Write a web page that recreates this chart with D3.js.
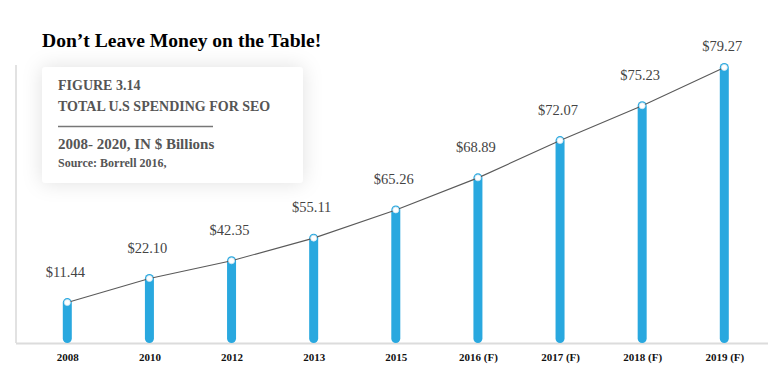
<!DOCTYPE html>
<html><head><meta charset="utf-8">
<script src="https://cdn.jsdelivr.net/npm/d3@7/dist/d3.min.js"></script>
<style>
html,body{margin:0;padding:0;background:#fff;}
svg{display:block;font-family:"Liberation Serif","Times New Roman",serif;}
</style></head>
<body>
<svg id="c" width="768" height="377"></svg>
<script>
const categories = ["2008","2010","2012","2013","2015","2016 (F)","2017 (F)","2018 (F)","2019 (F)"];
// drawn bar heights (as shown in the picture, in $ billions scale of the axis)
const barLevels = [11.6, 18.5, 23.6, 30.1, 38.2, 47.4, 58.1, 68.1, 79.1];
// value labels printed above each bar
const valueLabels = ["$11.44","$22.10","$42.35","$55.11","$65.26","$68.89","$72.07","$75.23","$79.27"];
const titleText = "Don\u2019t Leave Money on the Table!";
const boxLines = ["FIGURE 3.14","TOTAL U.S SPENDING FOR SEO","2008- 2020, IN $ Billions","Source: Borrell 2016,"];

const svg = d3.select("#c");
const baseY = 343;
const x = d3.scalePoint().domain(categories).range([67.3, 724.3]);
const y = d3.scaleLinear().domain([0, 80]).range([baseY, 64.3]);

const defs = svg.append("defs");
const f = defs.append("filter").attr("id","sh").attr("x","-30%").attr("y","-50%").attr("width","160%").attr("height","200%");
f.append("feDropShadow").attr("dx",0).attr("dy",0).attr("stdDeviation",10).attr("flood-color","#000").attr("flood-opacity",0.12);

// frame lines
svg.append("line").attr("x1",16).attr("x2",16).attr("y1",65).attr("y2",baseY)
  .attr("stroke","#e2e2e2").attr("stroke-width",2);
svg.append("line").attr("x1",16).attr("x2",768).attr("y1",baseY+0.5).attr("y2",baseY+0.5)
  .attr("stroke","#dcdcdc").attr("stroke-width",2);

// title
svg.append("text").attr("x",42).attr("y",47).attr("font-size",19.6).attr("font-weight","bold")
  .attr("fill","#000").text(titleText);

// info box
svg.append("rect").attr("x",42).attr("y",67).attr("width",261).attr("height",116).attr("rx",4)
  .attr("fill","#fff").attr("filter","url(#sh)");
const bt = svg.append("g").attr("fill","#555").attr("font-weight","bold");
bt.append("text").attr("x",58).attr("y",89.5).attr("font-size",14).text(boxLines[0]);
bt.append("text").attr("x",58).attr("y",110.5).attr("font-size",14).text(boxLines[1]);
svg.append("line").attr("x1",58).attr("x2",213).attr("y1",126.5).attr("y2",126.5).attr("stroke","#777").attr("stroke-width",1.5);
bt.append("text").attr("x",58).attr("y",149).attr("font-size",15).text(boxLines[2]);
bt.append("text").attr("x",58).attr("y",167).attr("font-size",12).text(boxLines[3]);

const data = categories.map((c,i)=>({c, v:barLevels[i], label:valueLabels[i]}));

// bars
svg.append("g").selectAll("line").data(data).join("line")
  .attr("x1",d=>x(d.c)).attr("x2",d=>x(d.c))
  .attr("y1",d=>y(d.v)).attr("y2",baseY-4.5)
  .attr("stroke","#29a8df").attr("stroke-width",9).attr("stroke-linecap","round");

// trend line
svg.append("path").datum(data)
  .attr("d", d3.line().x(d=>x(d.c)).y(d=>y(d.v)))
  .attr("fill","none").attr("stroke","#5a5a5a").attr("stroke-width",1.1);

// points
svg.append("g").selectAll("circle").data(data).join("circle")
  .attr("cx",d=>x(d.c)).attr("cy",d=>y(d.v)).attr("r",3)
  .attr("fill","#fff").attr("stroke","#cfe6f2").attr("stroke-width",0.8);

// value labels (kept below the top margin)
svg.append("g").selectAll("text").data(data).join("text")
  .attr("x",d=>x(d.c)-2).attr("y",d=>Math.max(y(d.v)-26, 51))
  .attr("text-anchor","middle").attr("font-size",14.5).attr("fill","#444")
  .text(d=>d.label);

// x axis labels
const xa = svg.append("g").attr("transform",`translate(0,${baseY})`)
  .call(d3.axisBottom(x).tickSize(0).tickPadding(10));
xa.select(".domain").remove();
xa.selectAll("text").attr("font-family","Liberation Serif, serif").attr("font-size",11)
  .attr("font-weight","bold").attr("fill","#111");
</script>
</body></html>
